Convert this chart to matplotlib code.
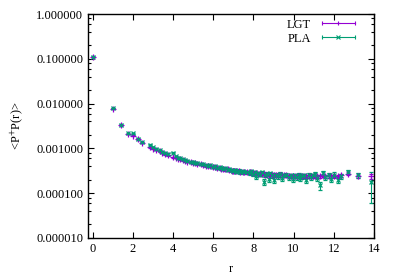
import matplotlib.pyplot as plt
from matplotlib.lines import Line2D
from matplotlib.legend_handler import HandlerLine2D, HandlerTuple
from matplotlib.ticker import FixedLocator, FuncFormatter, LogLocator, NullFormatter

plt.rcParams['font.family'] = ['Liberation Serif', 'DejaVu Serif']
plt.rcParams['mathtext.fontset'] = 'stix'

# distances r on the lattice
r = [0, 1, 1.41, 1.73, 2, 2.24, 2.45, 2.83, 3, 3.16, 3.32, 3.46, 3.61, 3.74,
     4, 4.12, 4.24, 4.36, 4.47, 4.58, 4.69, 4.90, 5, 5.10, 5.20, 5.39, 5.48,
     5.66, 5.74, 5.83, 6, 6.08, 6.16, 6.32, 6.40, 6.48, 6.56, 6.71, 6.78, 6.93,
     7, 7.07, 7.14, 7.28, 7.35, 7.48, 7.55, 7.68, 7.81, 7.87, 8, 8.06, 8.12,
     8.25, 8.31, 8.43, 8.54, 8.60, 8.66, 8.77, 8.83, 8.94, 9, 9.11, 9.22, 9.33,
     9.43, 9.54, 9.64, 9.75, 9.85, 9.95, 10.05, 10.15, 10.25, 10.34, 10.44,
     10.54, 10.63, 10.77, 10.86, 10.95, 11.05, 11.18, 11.31, 11.45, 11.58,
     11.75, 11.87, 12.04, 12.21, 12.37, 12.73, 13.19, 13.86]

lgt = [0.110, 0.0077, 0.0033, 0.0021, 0.0019, 0.00160, 0.00135, 0.00105,
       0.00098, 0.00092, 0.00086, 0.00080, 0.00074, 0.00071, 0.00063, 0.00062,
       0.00059, 0.00057, 0.00055, 0.00053, 0.00051, 0.00049, 0.00048, 0.00047,
       0.00045, 0.00044, 0.00043, 0.00041, 0.00040, 0.00040, 0.00038, 0.00038,
       0.00037, 0.00036, 0.00035, 0.00035, 0.00034, 0.00034, 0.00033, 0.00032,
       0.00032, 0.00032, 0.00031, 0.00031, 0.00030, 0.00030, 0.00030, 0.00029,
       0.00029, 0.00029, 0.00028, 0.00028, 0.00028, 0.00027, 0.00027, 0.00027,
       0.00027, 0.00026, 0.00026, 0.00026, 0.00026, 0.00026, 0.00026, 0.00025,
       0.00025, 0.00025, 0.00025, 0.00025, 0.00025, 0.00024, 0.00024, 0.00024,
       0.00024, 0.00024, 0.00024, 0.00024, 0.00024, 0.00024, 0.00024, 0.00024,
       0.00024, 0.00024, 0.00024, 0.00024, 0.00024, 0.00025, 0.00024, 0.00024,
       0.00024, 0.00024, 0.00024, 0.00025, 0.00027, 0.00024, 0.00024]

lgt_err = [0.002, 0.0002, 0.00008, 0.00005, 0.00005, 0.00004, 0.00003,
           0.00003, 0.00003, 0.00002, 0.00002, 0.00002, 0.00002, 0.00002,
           0.00002, 0.00002, 0.00002, 0.00002, 0.00002, 0.00002, 0.00002,
           0.00002, 0.00002, 0.00002, 0.00002, 0.00002, 0.00002, 0.00002,
           0.00002, 0.00002, 0.00002, 0.00002, 0.00002, 0.00002, 0.00002,
           0.00002, 0.00002, 0.00002, 0.00002, 0.00002, 0.00002, 0.00002,
           0.00002, 0.00002, 0.00002, 0.00002, 0.00002, 0.00002, 0.00002,
           0.00002, 0.00002, 0.00002, 0.00002, 0.00002, 0.00002, 0.00002,
           0.00002, 0.00002, 0.00002, 0.00002, 0.00002, 0.00002, 0.00002,
           0.00002, 0.00002, 0.00002, 0.00002, 0.00002, 0.00002, 0.00002,
           0.00002, 0.00002, 0.00002, 0.00002, 0.00002, 0.00002, 0.00002,
           0.00002, 0.00002, 0.00002, 0.00002, 0.00002, 0.00002, 0.00002,
           0.00002, 0.00002, 0.00002, 0.00002, 0.00002, 0.00002, 0.00002,
           0.00002, 0.00002, 0.00002, 0.00003]

pla = [0.112, 0.0080, 0.0034, 0.0022, 0.0022, 0.00165, 0.00138, 0.00120,
       0.00106, 0.00098, 0.00090, 0.00085, 0.00079, 0.00074, 0.00080, 0.00066,
       0.00062, 0.00060, 0.00057, 0.00055, 0.00053, 0.00050, 0.00051, 0.00048,
       0.00047, 0.00045, 0.00044, 0.00043, 0.00041, 0.00042, 0.00039, 0.00041,
       0.00037, 0.00038, 0.00036, 0.00035, 0.00036, 0.00033, 0.00035, 0.00033,
       0.00031, 0.00033, 0.00030, 0.00032, 0.00029, 0.00031, 0.00029, 0.00030,
       0.00028, 0.00031, 0.00027, 0.00029, 0.00024, 0.00028, 0.00026, 0.00029,
       0.00018, 0.00025, 0.00027, 0.00021, 0.00028, 0.00025, 0.00020, 0.00026,
       0.00024, 0.00027, 0.00022, 0.00025, 0.00026, 0.00023, 0.00025, 0.00021,
       0.00025, 0.00023, 0.00026, 0.00022, 0.00024, 0.00025, 0.00020, 0.00026,
       0.00023, 0.00025, 0.00027, 0.00022, 0.00015, 0.00028, 0.00023, 0.00025,
       0.00021, 0.00026, 0.00020, 0.00024, 0.00030, 0.00025, 0.00018]

pla_err = [0.002, 0.0002, 0.0001, 0.00006, 0.00006, 0.00004, 0.00004,
           0.00003, 0.00003, 0.00003, 0.00003, 0.00003, 0.00003, 0.00003,
           0.00003, 0.00002, 0.00002, 0.00002, 0.00002, 0.00002, 0.00002,
           0.00002, 0.00002, 0.00002, 0.00002, 0.00002, 0.00002, 0.00002,
           0.00002, 0.00002, 0.00002, 0.00002, 0.00002, 0.00002, 0.00002,
           0.00002, 0.00002, 0.00002, 0.00002, 0.00002, 0.00003, 0.00002,
           0.00002, 0.00002, 0.00002, 0.00002, 0.00002, 0.00002, 0.00002,
           0.00002, 0.00003, 0.00002, 0.00003, 0.00002, 0.00002, 0.00002,
           0.00003, 0.00002, 0.00002, 0.00003, 0.00002, 0.00003, 0.00003,
           0.00002, 0.00003, 0.00002, 0.00003, 0.00002, 0.00002, 0.00003,
           0.00002, 0.00003, 0.00002, 0.00003, 0.00002, 0.00003, 0.00003,
           0.00002, 0.00003, 0.00002, 0.00003, 0.00002, 0.00003, 0.00003,
           0.00003, 0.00003, 0.00003, 0.00003, 0.00003, 0.00003, 0.00003,
           0.00003, 0.00003, 0.00003, 0.00012]

x_ticks = [0, 2, 4, 6, 8, 10, 12, 14]
y_ticks = [1e-5, 1e-4, 1e-3, 1e-2, 1e-1, 1]

C_LGT = '#9400D3'
C_PLA = '#009E73'

fig = plt.figure(figsize=(3.96, 2.77), dpi=100)
ax = fig.add_axes([0.222, 0.141, 0.722, 0.808])

ax.errorbar(r, lgt, yerr=lgt_err, fmt='+', color=C_LGT, ms=4, mew=0.9,
            elinewidth=0.8, capsize=1.5, capthick=0.8)
ax.errorbar(r, pla, yerr=pla_err, fmt='x', color=C_PLA, ms=3.5, mew=0.9,
            elinewidth=0.8, capsize=1.5, capthick=0.8)

ax.set_yscale('log')
ax.set_xlim(-0.25, 14)
ax.set_ylim(1e-5, 1)
ax.xaxis.set_major_locator(FixedLocator(x_ticks))
ax.yaxis.set_major_locator(FixedLocator(y_ticks))
ax.yaxis.set_minor_locator(LogLocator(base=10, subs=(2, 4, 6, 8)))
ax.yaxis.set_minor_formatter(NullFormatter())
ax.yaxis.set_major_formatter(FuncFormatter(lambda v, p: '%f' % v))

ax.tick_params(which='both', direction='in', top=True, right=True,
               labelsize=9, width=0.8)
ax.tick_params(which='major', length=4)
ax.tick_params(which='minor', length=2)
for s in ax.spines.values():
    s.set_linewidth(1.0)

ax.set_xlabel('r', fontsize=9, labelpad=6)
ax.set_ylabel('<P$^{+}$P(r)>', fontsize=9, labelpad=8)

# gnuplot style key: line with end caps and the point marker in the middle
handles = []
hmap = {}
for c, m in [(C_LGT, '+'), (C_PLA, 'x')]:
    bar = Line2D([], [], color=c, lw=0.8, marker='|', ms=3, mew=0.8)
    pt = Line2D([], [], color=c, ls='none', marker=m, ms=3, mew=0.8)
    hmap[bar] = HandlerLine2D(numpoints=2)
    hmap[pt] = HandlerLine2D(numpoints=1)
    handles.append((bar, pt))

ax.legend(handles, ['LGT', 'PLA'], handler_map={tuple: HandlerTuple(ndivide=1), **hmap},
          loc='upper right', bbox_to_anchor=(0.955, 0.99), frameon=False,
          markerfirst=False, fontsize=9, handlelength=3.2, borderaxespad=0.0,
          borderpad=0.2, labelspacing=0.15, handletextpad=0.6)

fig.savefig('out.png', dpi=100)
